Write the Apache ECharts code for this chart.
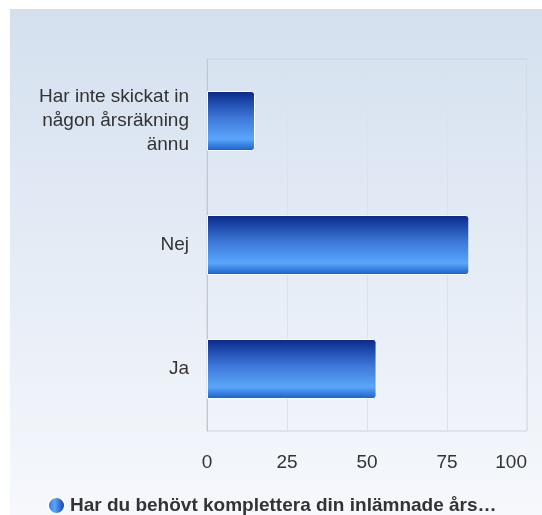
<!DOCTYPE html>
<html>
<head>
<meta charset="utf-8">
<script src="https://cdn.jsdelivr.net/npm/echarts@6/dist/echarts.min.js"></script>
<style>
  html, body { margin: 0; padding: 0; background: #fff; }
  #chart { width: 542px; height: 515px; }
</style>
</head>
<body>
<div id="chart"></div>
<script>
// data
const categories = ['Ja', 'Nej', 'Har inte skickat in\nnågon årsräkning\nännu']
const values = [53, 82, 15]
const seriesName = 'Har du behövt komplettera din inlämnade årsräkning?'
const xTicks = [0, 25, 50, 75, 100]

const chart = echarts.init(document.getElementById('chart'))

// bar fill, dark on top and light near the bottom
const barFill = new echarts.graphic.LinearGradient(0, 0, 0, 1, [
  { offset: 0, color: '#08288a' },
  { offset: 0.45, color: '#3d78d8' },
  { offset: 0.8, color: '#5aa6fb' },
  { offset: 1, color: '#1b5cc6' }
])

const options = {
  animation: false,
  textStyle: { fontFamily: 'Liberation Sans, Arial, sans-serif' },
  graphic: [{
    type: 'rect',
    silent: true,
    z: -10,
    shape: { x: 10, y: 9, width: 532, height: 506 },
    style: {
      fill: new echarts.graphic.LinearGradient(0, 0, 0, 1, [
        { offset: 0, color: '#d4e0ef' },
        { offset: 1, color: '#f6f8fc' }
      ])
    }
  }],
  grid: {
    left: 207,
    right: 15,
    top: 59,
    bottom: 84,
    outerBoundsMode: 'none',
    show: true,
    borderColor: '#cfd3d9',
    borderWidth: 1,
    backgroundColor: 'transparent'
  },
  xAxis: {
    type: 'value',
    min: xTicks[0],
    max: xTicks[xTicks.length - 1],
    interval: 25,
    axisLine: { show: false },
    axisTick: { show: false },
    splitLine: { lineStyle: { color: '#dde2e8' } },
    axisLabel: { color: '#333', fontSize: 19, margin: 22, alignMaxLabel: 'right' }
  },
  yAxis: {
    type: 'category',
    data: categories,
    axisLine: { show: true, lineStyle: { color: '#c4c8ce' } },
    axisTick: { show: false },
    axisLabel: { color: '#333', fontSize: 19, margin: 18, lineHeight: 24, align: 'right' }
  },
  legend: {
    top: 496,
    left: 47,
    padding: 0,
    itemWidth: 17,
    itemHeight: 17,
    itemGap: 10,
    icon: 'circle',
    textStyle: {
      color: '#333',
      fontSize: 19,
      fontWeight: 'bold',
      width: 446,
      overflow: 'truncate',
      ellipsis: '…'
    },
    data: [{
      name: seriesName,
      itemStyle: {
        color: new echarts.graphic.LinearGradient(0, 0, 1, 0, [
          { offset: 0, color: '#2a6ad8' },
          { offset: 0.4, color: '#5aa6fb' },
          { offset: 1, color: '#0d2f96' }
        ])
      }
    }]
  },
  series: [{
    name: seriesName,
    type: 'bar',
    data: values,
    barWidth: 60,
    itemStyle: {
      color: barFill,
      borderColor: '#ffffff',
      borderWidth: 1,
      borderRadius: [0, 3, 3, 0]
    }
  }]
}

chart.setOption(options)
</script>
</body>
</html>
